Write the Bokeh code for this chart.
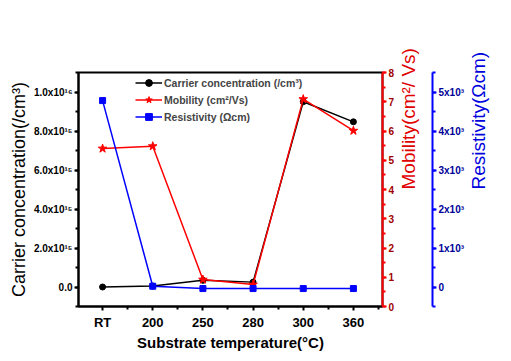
import math
from bokeh.plotting import figure
from bokeh.models import Range1d, LinearAxis, FixedTicker, Legend, LegendItem
from bokeh.embed import file_html
from bokeh.resources import INLINE

temps = ["RT", "200", "250", "280", "300", "360"]
xpos = [0, 1, 2, 3, 4, 5]
carrier = [0.0, 0.05e15, 0.34e15, 0.25e15, 9.5e15, 8.47e15]
mobility = [5.40, 5.48, 0.92, 0.75, 7.09, 6.01]
resistivity = [4780, 20, -40, -40, -40, -40]

left_ticks = [0, 2e15, 4e15, 6e15, 8e15, 1e16]
left_labels = ["0.0", "2.0x10¹⁵", "4.0x10¹⁵", "6.0x10¹⁵", "8.0x10¹⁵", "1.0x10¹⁶"]
mob_ticks = [0, 1, 2, 3, 4, 5, 6, 7, 8]
res_ticks = [0, 1000, 2000, 3000, 4000, 5000]
res_labels = ["0", "1x10³", "2x10³", "3x10³", "4x10³", "5x10³"]

FONT = "Liberation Sans"

p = figure(width=503, height=353, output_backend="svg", toolbar_location=None,
           x_range=Range1d(-0.48, 5.58), y_range=Range1d(-1e15, 1.1e16),
           min_border_left=78, min_border_right=121, min_border_top=72, min_border_bottom=44)
p.extra_y_ranges = {"mob": Range1d(0, 8), "res": Range1d(-500, 5500)}
p.grid.visible = False
p.outline_line_color = "black"
p.outline_line_width = 2
p.background_fill_color = "white"
p.border_fill_color = "white"

# x axis
xa = p.xaxis[0]
xa.ticker = FixedTicker(ticks=xpos, minor_ticks=[-0.5, 0.5, 1.5, 2.5, 3.5, 4.5, 5.5])
xa.major_label_overrides = {x: t for x, t in zip(xpos, temps)}
xa.axis_label = "Substrate temperature(°C)"

# left axis
ya = p.yaxis[0]
ya.ticker = FixedTicker(ticks=left_ticks, minor_ticks=[i * 1e15 for i in range(-1, 12)])
ya.major_label_overrides = {t: l for t, l in zip(left_ticks, left_labels)}
ya.axis_label = "Carrier concentration(/cm³)"

for ax in (xa, ya):
    ax.axis_line_width = 2
    ax.axis_line_color = "black"
    ax.major_tick_line_color = "black"
    ax.minor_tick_line_color = "black"
    ax.major_tick_line_width = 2
    ax.minor_tick_line_width = 2
    ax.major_tick_in = 0
    ax.major_tick_out = 4
    ax.minor_tick_in = 0
    ax.minor_tick_out = 3
    ax.major_label_text_font = FONT
    ax.major_label_text_font_style = "bold"
    ax.major_label_text_color = "black"
    ax.axis_label_text_font = FONT
    ax.axis_label_text_font_style = "normal"
    ax.axis_label_text_color = "black"
    ax.major_label_standoff = 2

xa.major_label_text_font_size = "13px"
xa.axis_label_text_font_size = "15px"
xa.axis_label_text_font_style = "bold"
xa.axis_label_standoff = 1
xa.major_label_standoff = 4
ya.major_label_text_font_size = "10px"
ya.axis_label_text_font_size = "18px"
ya.axis_label_standoff = 2

# right axes
mob_ax = LinearAxis(y_range_name="mob", ticker=FixedTicker(ticks=mob_ticks, minor_ticks=[i * 0.5 for i in range(17)]),
                    axis_label="Mobility(cm²/ Vs)")
res_ax = LinearAxis(y_range_name="res",
                    ticker=FixedTicker(ticks=res_ticks, minor_ticks=[i * 500 for i in range(-1, 12)]),
                    axis_label="Resistivity(Ωcm)")
res_ax.major_label_overrides = {t: l for t, l in zip(res_ticks, res_labels)}
for ax, col, tcol, lab in ((mob_ax, "#ff0000", "#a00000", "#e00000"), (res_ax, "#0000ff", "#000099", "#0000dd")):
    ax.axis_line_color = col
    ax.axis_line_width = 2
    ax.major_tick_line_color = col
    ax.minor_tick_line_color = col
    ax.major_tick_line_width = 2
    ax.minor_tick_line_width = 2
    ax.major_tick_in = 0
    ax.major_tick_out = 4
    ax.minor_tick_in = 0
    ax.minor_tick_out = 3
    ax.major_label_text_font = FONT
    ax.major_label_text_font_style = "bold"
    ax.major_label_text_font_size = "10px"
    ax.major_label_text_color = tcol
    ax.major_label_standoff = 2
    ax.axis_label_text_font = FONT
    ax.axis_label_text_font_style = "normal"
    ax.axis_label_text_font_size = "19px"
    ax.axis_label_text_color = lab
    ax.axis_label_orientation = math.pi / 2
mob_ax.axis_label_standoff = 11
res_ax.axis_label_standoff = 11
p.add_layout(mob_ax, "right")
p.add_layout(res_ax, "right")

# data
l1 = p.line(xpos, carrier, line_color="black", line_width=1.5)
m1 = p.scatter(xpos, carrier, marker="circle", size=6, color="black")
l2 = p.line(xpos, mobility, line_color="#ff0000", line_width=1.5, y_range_name="mob")
m2 = p.scatter(xpos, mobility, marker="star", size=9, line_color="#ff0000", fill_color="#ff0000", y_range_name="mob")
l3 = p.line(xpos, resistivity, line_color="#0000ff", line_width=1.5, y_range_name="res")
m3 = p.scatter(xpos, resistivity, marker="square", size=6, color="#0000ff", y_range_name="res")

legend = Legend(items=[
    LegendItem(label="Carrier concentration (/cm³)", renderers=[l1, m1]),
    LegendItem(label="Mobility (cm²/Vs)", renderers=[l2, m2]),
    LegendItem(label="Resistivity (Ωcm)", renderers=[l3, m3]),
], location=(57, 181))
legend.glyph_width = 27
legend.glyph_height = 17
legend.label_height = 17
legend.label_standoff = 2
legend.padding = 0
legend.spacing = 0
legend.margin = 0
legend.background_fill_alpha = 0
legend.border_line_alpha = 0
legend.label_text_font = FONT
legend.label_text_font_style = "bold"
legend.label_text_font_size = "10.5px"
p.add_layout(legend)

open("out.html", "w").write(file_html(p, INLINE))
